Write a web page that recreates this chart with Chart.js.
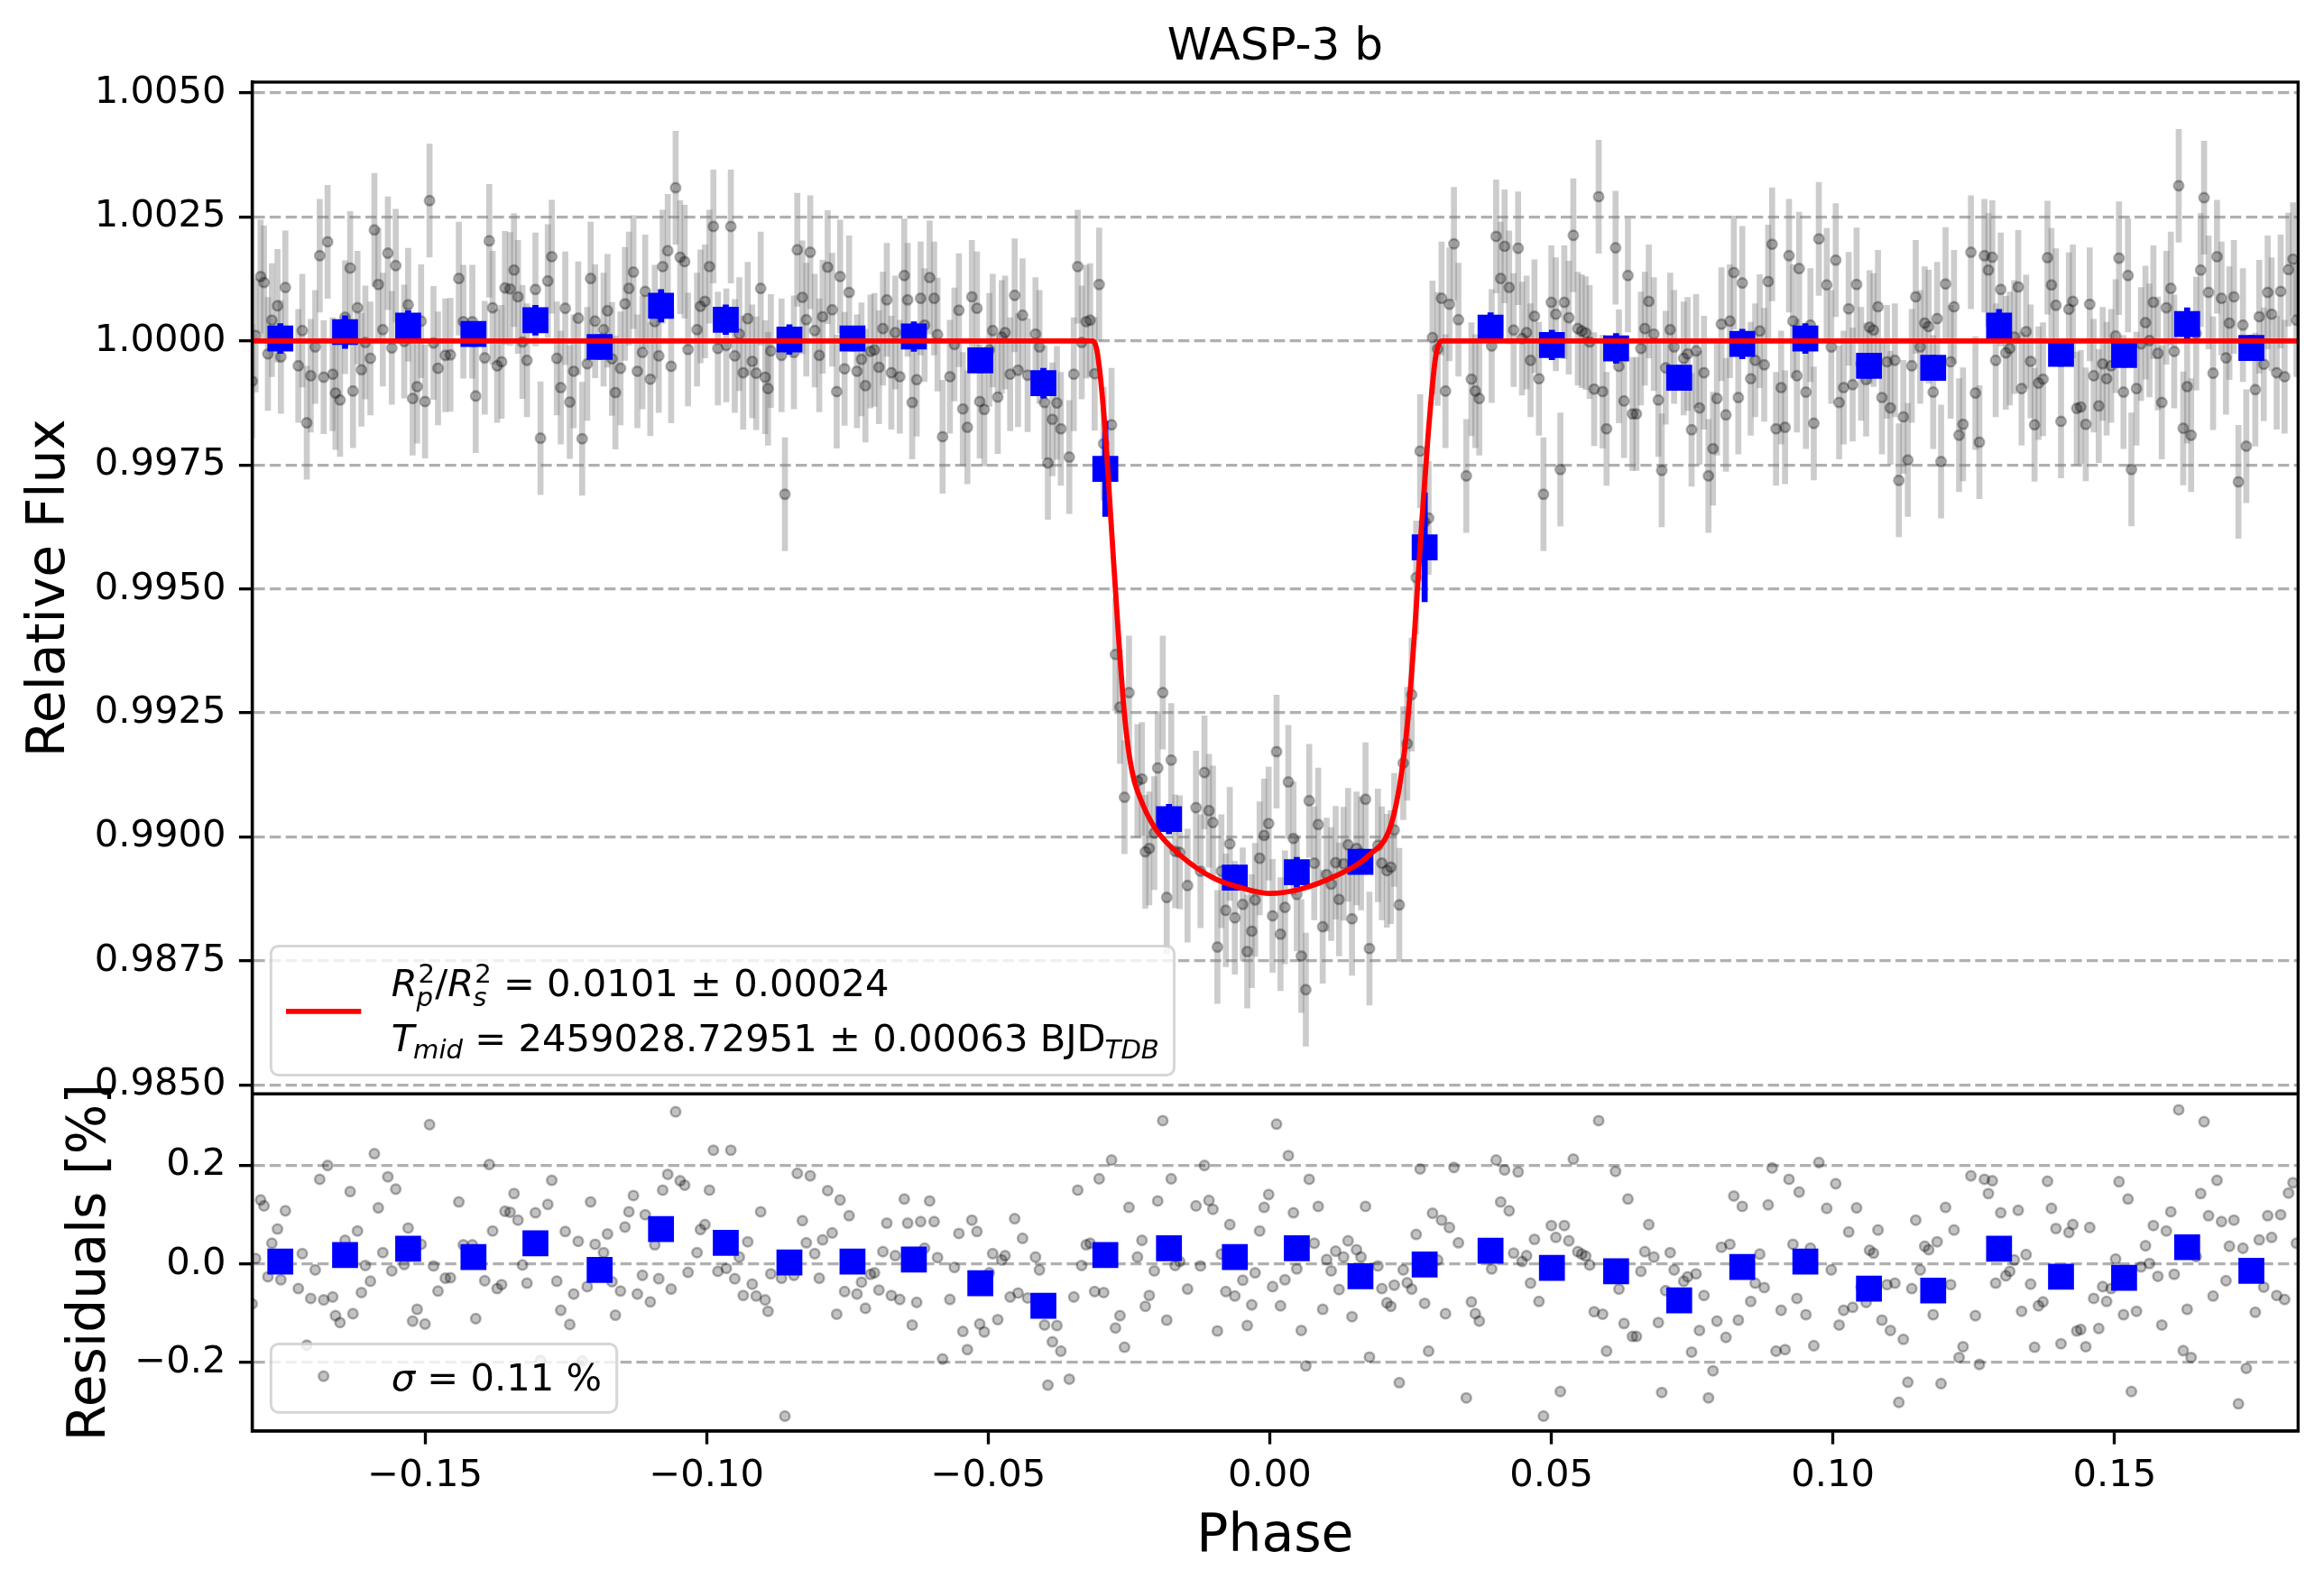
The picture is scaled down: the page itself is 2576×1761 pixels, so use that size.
<!DOCTYPE html>
<html><head><meta charset="utf-8">
<script src="https://cdn.jsdelivr.net/npm/chart.js@4.4.1/dist/chart.umd.min.js"></script>
<style>html,body{margin:0;padding:0;background:#fff;}canvas{display:block;}</style>
</head><body>
<canvas id="c" width="2576" height="1761" style="width:2576px;height:1761px"></canvas>
<script>
// ---------------- DATA ----------------
const phase = [
-0.1807,-0.1801,-0.1792,-0.1786,-0.1779,-0.1772,-0.1762,-0.1756,-0.1748,-0.1725,
-0.1718,-0.1710,-0.1703,-0.1695,-0.1687,-0.1680,-0.1673,-0.1664,-0.1659,-0.1651,
-0.1642,-0.1633,-0.1628,-0.1620,-0.1613,-0.1606,-0.1597,-0.1590,-0.1583,-0.1575,
-0.1566,-0.1559,-0.1552,-0.1537,-0.1530,-0.1522,-0.1514,-0.1507,-0.1500,-0.1492,
-0.1485,-0.1477,-0.1464,-0.1455,-0.1440,-0.1432,-0.1416,-0.1410,-0.1394,-0.1386,
-0.1380,-0.1372,-0.1364,-0.1358,-0.1349,-0.1342,-0.1335,-0.1327,-0.1319,-0.1304,
-0.1295,-0.1282,-0.1275,-0.1266,-0.1259,-0.1251,-0.1243,-0.1236,-0.1228,-0.1221,
-0.1212,-0.1206,-0.1198,-0.1183,-0.1176,-0.1168,-0.1162,-0.1153,-0.1145,-0.1138,
-0.1130,-0.1123,-0.1114,-0.1109,-0.1100,-0.1092,-0.1085,-0.1078,-0.1069,-0.1063,
-0.1055,-0.1047,-0.1039,-0.1033,-0.1017,-0.1011,-0.1003,-0.0995,-0.0988,-0.0980,
-0.0965,-0.0957,-0.0950,-0.0942,-0.0935,-0.0927,-0.0919,-0.0912,-0.0904,-0.0896,
-0.0891,-0.0886,
-0.0867,-0.0861,-0.0845,-0.0839,-0.0830,-0.0823,-0.0816,-0.0808,-0.0800,-0.0794,
-0.0785,-0.0777,-0.0769,-0.0763,-0.0755,-0.0747,-0.0733,-0.0725,-0.0718,-0.0709,
-0.0702,-0.0694,-0.0687,-0.0680,-0.0672,-0.0665,-0.0657,-0.0649,-0.0643,-0.0635,
-0.0627,-0.0620,-0.0613,-0.0604,-0.0596,-0.0590,-0.0581,-0.0568,-0.0560,-0.0552,
-0.0545,-0.0537,-0.0529,-0.0520,-0.0515,-0.0507,-0.0498,-0.0492,-0.0483,-0.0476,
-0.0470,-0.0461,-0.0453,-0.0447,-0.0439,-0.0430,-0.0416,-0.0409,-0.0400,-0.0394,
-0.0386,-0.0378,-0.0371,-0.0356,-0.0348,-0.0341,-0.0334,-0.0326,-0.0319,
-0.0311,-0.0303,-0.0295,-0.0281,-0.0274,-0.0266,-0.0258,-0.0250,-0.0235,-0.0227,
-0.0221,-0.0214,-0.0205,-0.0199,-0.0190,-0.0183,-0.0175,-0.0168,-0.0160,-0.0146,
-0.0131,-0.0123,-0.0116,-0.0108,-0.0101,-0.0093,-0.0086,-0.0078,-0.0071,-0.0062,
-0.0048,-0.0040,-0.0032,-0.0026,-0.0018,-0.0010,-0.0002,0.0005,0.0012,0.0019,
0.0027,
0.0033,0.0042,0.0048,0.0056,0.0064,0.0070,0.0079,0.0086,0.0094,0.0101,
0.0109,0.0117,0.0123,0.0131,0.0139,0.0146,0.0154,0.0162,0.0170,0.0177,
0.0192,0.0199,0.0208,0.0215,0.0221,0.0230,0.0237,0.0244,0.0252,0.0260,
0.0267,0.0275,0.0282,0.0289,0.0298,0.0305,
0.0312,0.0319,0.0327,0.0335,0.0349,0.0358,0.0365,0.0372,0.0394,0.0402,
0.0410,0.0417,0.0425,0.0433,0.0441,0.0448,0.0456,0.0463,0.0470,0.0478,
0.0486,0.0500,0.0508,0.0516,0.0523,0.0531,0.0539,0.0547,0.0554,0.0561,
0.0568,0.0576,0.0584,0.0591,0.0598,0.0614,0.0620,0.0629,0.0636,0.0644,
0.0651,0.0659,0.0666,0.0673,0.0682,0.0690,0.0696,0.0703,0.0711,0.0718,
0.0735,0.0742,0.0749,0.0757,0.0763,0.0771,0.0779,0.0787,0.0794,0.0802,
0.0810,0.0817,0.0824,0.0832,0.0839,0.0854,0.0862,0.0870,0.0878,0.0885,
0.0892,0.0899,0.0908,0.0915,0.0922,0.0929,0.0936,0.0940,
0.0952,0.0960,0.0966,0.0975,0.0989,0.0997,0.1005,0.1011,0.1019,0.1028,
0.1035,0.1042,0.1050,0.1059,0.1065,0.1072,0.1080,0.1087,0.1096,0.1102,
0.1110,0.1117,0.1125,0.1133,0.1140,0.1147,0.1155,0.1163,0.1170,0.1178,
0.1185,0.1192,0.1200,0.1209,0.1215,0.1224,0.1231,0.1245,0.1253,0.1260,
0.1269,0.1276,0.1283,0.1289,0.1298,0.1307,0.1314,0.1322,0.1329,0.1335,
0.1343,0.1351,0.1358,0.1365,0.1373,0.1381,0.1388,0.1396,0.1405,0.1419,
0.1426,0.1433,0.1440,0.1449,0.1456,0.1463,0.1472,0.1479,0.1486,0.1494,
0.1502,0.1508,0.1516,0.1524,0.1530,0.1539,0.1547,0.1555,0.1562,0.1569,
0.1577,0.1584,0.1592,0.1600,0.1606,0.1614,0.1622,0.1629,0.1636,0.1645,
0.1653,0.1659,0.1667,0.1675,0.1682,0.1690,0.1698,0.1704,0.1712,0.1720,
0.1728,0.1734,0.1750,0.1757,0.1765,0.1772,0.1779,0.1788,0.1795,0.1802,
0.1809,0.1817,0.1823
];

// relative flux of every exposure
const flux = [
0.99919,1.00011,1.00130,1.00118,0.99974,1.00042,1.00071,0.99968,1.00108,0.99950,
1.00021,0.99835,0.99930,0.99988,1.00172,0.99927,1.00200,0.99933,0.99895,0.99881,
1.00048,1.00147,0.99899,1.00067,0.99942,0.99997,0.99965,1.00224,1.00114,1.00023,
1.00177,0.99986,1.00152,0.99999,1.00073,0.99884,0.99908,1.00040,0.99878,1.00283,
0.99996,0.99945,0.99971,0.99972,1.00126,1.00039,1.00039,0.99889,0.99966,1.00202,
1.00067,0.99950,0.99958,1.00107,1.00105,1.00143,1.00089,0.99998,0.99961,1.00104,
0.99804,1.00121,1.00170,0.99965,0.99906,1.00066,0.99877,0.99939,1.00046,0.99803,
0.99954,1.00126,1.00040,1.00023,1.00061,0.99964,0.99896,0.99945,1.00075,1.00106,
1.00139,0.99939,0.99977,1.00100,0.99923,1.00039,0.99970,1.00150,1.00182,0.99949,
1.00309,1.00169,1.00160,0.99983,1.00023,1.00070,1.00080,1.00150,1.00231,0.99985,
0.99991,1.00231,0.99970,1.00014,0.99936,1.00045,0.99959,0.99935,1.00106,0.99927,
0.99904,0.99980,
0.99971,0.99691,0.99977,1.00184,1.00088,1.00043,1.00179,1.00021,0.99971,1.00049,
1.00149,1.00063,0.99898,1.00130,0.99944,1.00098,0.99939,0.99963,0.99910,0.99979,
0.99982,0.99947,1.00025,1.00083,0.99936,1.00017,0.99928,1.00132,1.00083,0.99876,
0.99922,1.00086,1.00032,1.00128,1.00086,1.00013,0.99807,0.99928,0.99993,1.00062,
0.99863,0.99826,1.00089,1.00066,0.99878,0.99862,0.99982,1.00021,0.99887,1.00008,
1.00017,0.99933,1.00092,0.99941,1.00052,0.99931,1.00014,0.99988,0.99876,0.99754,
0.99842,0.99875,0.99823,0.99766,0.99933,1.00150,0.99997,1.00039,1.00042,
0.99934,1.00114,0.99793,0.99831,0.99368,0.99262,0.99080,0.99291,0.99113,0.99117,
0.98970,0.98977,0.99008,0.99139,0.99291,0.98878,0.99155,0.98971,0.98969,0.98902,
0.99059,0.98931,0.99130,0.99053,0.99029,0.98778,0.98931,0.98852,0.98986,0.98837,
0.98864,0.98769,0.98810,0.98873,0.98957,0.99003,0.99027,0.98841,0.99172,0.98804,
0.98858,
0.99111,0.98997,0.98884,0.98760,0.98692,0.99073,0.98947,0.99025,0.98819,0.98924,
0.98905,0.98948,0.98874,0.98946,0.98984,0.98835,0.98977,0.98967,0.99076,0.98775,
0.98983,0.98947,0.98932,0.98939,0.99014,0.98863,0.99149,0.99188,0.99287,0.99523,
0.99778,0.99635,0.99643,1.00007,0.99984,1.00086,
0.99899,1.00074,1.00196,1.00043,0.99728,0.99923,0.99899,0.99884,0.99990,1.00211,
1.00126,1.00191,1.00108,1.00022,1.00187,1.00005,1.00017,0.99961,1.00050,0.99924,
0.99691,1.00078,1.00054,0.99741,1.00078,1.00047,1.00213,1.00025,1.00020,1.00016,
0.99998,0.99903,1.00291,0.99898,0.99823,1.00188,0.99949,0.99879,1.00132,0.99853,
0.99853,0.99985,1.00025,1.00080,1.00014,0.99881,0.99739,0.99946,1.00023,0.99988,
0.99965,0.99974,0.99821,0.99980,0.99865,0.99936,0.99728,0.99783,0.99884,1.00034,
0.99851,1.00040,1.00138,0.99886,1.00117,0.99924,0.99961,1.00020,0.99952,1.00120,
1.00195,0.99823,0.99906,0.99826,1.00172,1.00040,0.99930,1.00146,
0.99897,1.00032,0.99834,1.00206,1.00113,0.99988,1.00163,0.99876,0.99906,1.00065,
0.99912,1.00114,0.99954,0.99922,1.00028,1.00022,1.00069,0.99886,0.99958,0.99865,
0.99961,0.99719,0.99847,0.99760,0.99950,1.00089,0.99988,1.00036,1.00029,0.99897,
1.00045,0.99757,1.00115,0.99958,1.00069,0.99810,0.99832,1.00179,0.99895,0.99796,
1.00172,1.00143,1.00169,0.99961,1.00104,0.99976,0.99985,1.00008,1.00109,0.99904,
1.00019,0.99959,0.99831,0.99915,0.99923,1.00168,1.00113,1.00072,0.99838,1.00064,
1.00080,0.99864,0.99867,0.99832,1.00074,0.99930,0.99869,0.99954,0.99924,0.99950,
1.00010,1.00167,0.99897,1.00132,0.99741,0.99904,0.99994,1.00037,1.00001,1.00078,
0.99975,0.99876,1.00067,1.00106,0.99979,1.00313,0.99824,0.99908,0.99810,1.00015,
1.00143,1.00289,1.00098,0.99935,1.00170,1.00086,0.99966,1.00036,1.00089,0.99716,
1.00032,0.99788,0.99902,1.00049,0.99953,1.00098,1.00054,0.99936,1.00100,0.99928,
1.00144,1.00165,1.00042
];

// residuals in percent, same order as phase
const resid = [
-0.081,0.011,0.130,0.118,-0.026,0.042,0.071,-0.032,0.108,-0.050,
0.021,-0.165,-0.070,-0.012,0.172,-0.073,0.200,-0.067,-0.105,-0.119,
0.048,0.147,-0.101,0.067,-0.058,-0.003,-0.035,0.224,0.114,0.023,
0.177,-0.014,0.152,-0.001,0.073,-0.116,-0.092,0.040,-0.122,0.283,
-0.004,-0.055,-0.029,-0.028,0.126,0.039,0.039,-0.111,-0.034,0.202,
0.067,-0.050,-0.042,0.107,0.105,0.143,0.089,-0.002,-0.039,0.104,
-0.196,0.121,0.170,-0.035,-0.094,0.066,-0.123,-0.061,0.046,-0.197,
-0.046,0.126,0.040,0.023,0.061,-0.036,-0.104,-0.055,0.075,0.106,
0.139,-0.061,-0.023,0.100,-0.077,0.039,-0.030,0.150,0.182,-0.051,
0.309,0.169,0.160,-0.017,0.023,0.070,0.080,0.150,0.231,-0.015,
-0.009,0.231,-0.030,0.014,-0.064,0.045,-0.041,-0.065,0.106,-0.073,
-0.096,-0.020,
-0.029,-0.309,-0.023,0.184,0.088,0.043,0.179,0.021,-0.029,0.049,
0.149,0.063,-0.102,0.130,-0.056,0.098,-0.061,-0.037,-0.090,-0.021,
-0.018,-0.053,0.025,0.083,-0.064,0.017,-0.072,0.132,0.083,-0.124,
-0.078,0.086,0.032,0.128,0.086,0.013,-0.193,-0.072,-0.007,0.062,
-0.137,-0.174,0.089,0.066,-0.122,-0.138,-0.018,0.021,-0.113,0.008,
0.017,-0.067,0.092,-0.059,0.052,-0.069,0.014,-0.012,-0.124,-0.246,
-0.158,-0.125,-0.177,-0.234,-0.067,0.150,-0.003,0.039,0.042,
-0.056,0.173,-0.058,0.211,-0.130,-0.105,-0.169,0.115,0.014,0.048,
-0.086,-0.064,-0.014,0.128,0.291,-0.114,0.173,-0.003,0.005,-0.051,
0.118,-0.004,0.200,0.129,0.111,-0.136,0.020,-0.056,0.080,-0.065,
-0.033,-0.125,-0.083,-0.018,0.067,0.115,0.141,-0.046,0.284,-0.085,
-0.032,
0.220,0.104,-0.010,-0.135,-0.207,0.172,0.042,0.117,-0.092,0.009,
-0.014,0.026,-0.052,0.014,0.047,-0.107,0.029,0.014,0.117,-0.189,
-0.004,-0.050,-0.079,-0.086,-0.043,-0.241,-0.012,-0.038,-0.051,0.060,
0.193,-0.080,-0.177,0.103,0.008,0.089,
-0.101,0.074,0.196,0.043,-0.272,-0.077,-0.101,-0.116,-0.010,0.211,
0.126,0.191,0.108,0.022,0.187,0.005,0.017,-0.039,0.050,-0.076,
-0.309,0.078,0.054,-0.259,0.078,0.047,0.213,0.025,0.020,0.016,
-0.002,-0.097,0.291,-0.102,-0.177,0.188,-0.051,-0.121,0.132,-0.147,
-0.147,-0.015,0.025,0.080,0.014,-0.119,-0.261,-0.054,0.023,-0.012,
-0.035,-0.026,-0.179,-0.020,-0.135,-0.064,-0.272,-0.217,-0.116,0.034,
-0.149,0.040,0.138,-0.114,0.117,-0.076,-0.039,0.020,-0.048,0.120,
0.195,-0.177,-0.094,-0.174,0.172,0.040,-0.070,0.146,
-0.103,0.032,-0.166,0.206,0.113,-0.012,0.163,-0.124,-0.094,0.065,
-0.088,0.114,-0.046,-0.078,0.028,0.022,0.069,-0.114,-0.042,-0.135,
-0.039,-0.281,-0.153,-0.240,-0.050,0.089,-0.012,0.036,0.029,-0.103,
0.045,-0.243,0.115,-0.042,0.069,-0.190,-0.168,0.179,-0.105,-0.204,
0.172,0.143,0.169,-0.039,0.104,-0.024,-0.015,0.008,0.109,-0.096,
0.019,-0.041,-0.169,-0.085,-0.077,0.168,0.113,0.072,-0.162,0.064,
0.080,-0.136,-0.133,-0.168,0.074,-0.070,-0.131,-0.046,-0.076,-0.050,
0.010,0.167,-0.103,0.132,-0.259,-0.096,-0.006,0.037,0.001,0.078,
-0.025,-0.124,0.067,0.106,-0.021,0.313,-0.176,-0.092,-0.190,0.015,
0.143,0.289,0.098,-0.065,0.170,0.086,-0.034,0.036,0.089,-0.284,
0.032,-0.212,-0.098,0.049,-0.047,0.098,0.054,-0.064,0.100,-0.072,
0.144,0.165,0.042
];

// uniform 1-sigma flux error of the exposures (error bar half length)
const fluxErr = 0.00114;

// binned points (blue squares)
const binPhase = [-0.1757,-0.1642,-0.1530,-0.1414,-0.1304,-0.1190,-0.1081,-0.0966,-0.0853,-0.0741,
  -0.0632,-0.0514,-0.0402,-0.0292,-0.0179,-0.0062,0.0048,0.0161,0.0275,0.0392,
  0.0501,0.0615,0.0727,0.0839,0.0951,0.1064,0.1178,0.1295,0.1405,0.1517,0.1629,0.1743];
const binFlux = [1.00005,1.00018,1.00031,1.00014,1.00042,0.99988,1.00071,1.00043,1.00003,1.00005,
  1.00009,0.99961,0.99915,0.99742,0.99036,0.98918,0.98929,0.98950,0.99584,1.00027,
  0.99992,0.99985,0.99926,0.99994,1.00005,0.99950,0.99946,1.00031,0.99974,0.99972,1.00034,0.99986];
const binErr = [0.00030,0.00033,0.00030,0.00025,0.00030,0.00025,0.00033,0.00030,0.00030,0.00025,
  0.00030,0.00025,0.00030,0.00096,0.00030,0.00025,0.00030,0.00025,0.00110,0.00030,
  0.00030,0.00030,0.00025,0.00030,0.00030,0.00025,0.00025,0.00033,0.00025,0.00025,0.00033,0.00025];
const binResid = [0.005,0.018,0.031,0.014,0.042,-0.012,0.071,0.043,0.003,0.005,
  0.009,-0.039,-0.085,0.018,0.032,0.014,0.032,-0.025,-0.001,0.027,
  -0.008,-0.015,-0.074,-0.006,0.005,-0.050,-0.054,0.031,-0.026,-0.028,0.034,-0.014];

// fitted transit model (red curve)
const modelPhase = [-0.1807,-0.0315,-0.0306,-0.0293,-0.0281,-0.0269,-0.0257,-0.0245,-0.0226,-0.0202,
  -0.0159,-0.0098,-0.0043,0.0000,0.0055,0.0116,0.0177,0.0214,0.0232,0.0245,
  0.0257,0.0269,0.0281,0.0294,0.0306,0.1826];
const modelFlux = [1.00000,1.00000,0.99975,0.99829,0.99620,0.99411,0.99234,0.99135,0.99067,0.99015,
  0.98963,0.98916,0.98895,0.98886,0.98895,0.98921,0.98964,0.99020,0.99114,0.99235,
  0.99411,0.99620,0.99808,0.99964,1.00000,1.00000];

// axes ticks and ranges
const xTickValues = [-0.15,-0.10,-0.05,0.00,0.05,0.10,0.15];
const fluxTickValues = [0.9850,0.9875,0.9900,0.9925,0.9950,0.9975,1.0000,1.0025,1.0050];
const residTickValues = [-0.2,0.0,0.2];
const xRange = [-0.1807, 0.1826];
const fluxRange = [0.98482, 1.00522];
const residRange = [-0.3394, 0.3455];

// texts
const titleText = 'WASP-3 b';
const xLabel = 'Phase', fluxLabel = 'Relative Flux', residLabel = 'Residuals [%]';
const legendFitLines = [
  [{t:'R',it:1},{sup:'2',sub:'p'},{t:'/'},{t:'R',it:1},{sup:'2',sub:'s'},{t:' = 0.0101 \u00b1 0.00024'}],
  [{t:'T',it:1},{sub:'mid'},{t:' = 2459028.72951 \u00b1 0.00063 BJD'},{sub:'TDB'}]
];
const legendResidLine = [{t:'\u03c3',it:1},{t:' = 0.11 %'}];

if (phase.length !== flux.length || phase.length !== resid.length) {
  throw new Error('length mismatch ' + phase.length + ' ' + flux.length + ' ' + resid.length);
}

// ---------------- STYLE ----------------
const PX = 300/72;
const FONT = '"DejaVu Sans"';
const TICK_FS = 10*PX, LABEL_FS = 14*PX, TITLE_FS = 12*PX;
const AX_W = 0.8*PX;
const GRAY_FACE = 'rgba(0,0,0,0.24)', GRAY_EDGE = 'rgba(0,0,0,0.3)';
Chart.defaults.font.family = FONT;
Chart.defaults.color = '#000';

function fmt(v, d) { return (v < 0 ? '\u2212' : '') + Math.abs(v).toFixed(d); }

function fontStr(sz, it) { return (it ? 'italic ' : '') + sz + 'px ' + FONT; }
function drawRich(ctx, parts, x, y, draw) {
  let cx = x;
  for (const p of parts) {
    if (p.t !== undefined) {
      ctx.font = fontStr(TICK_FS, p.it);
      if (draw) ctx.fillText(p.t, cx, y);
      cx += ctx.measureText(p.t).width;
    } else {
      const s = TICK_FS*0.7;
      let w = 0;
      if (p.sup) {
        ctx.font = fontStr(s, false);
        if (draw) ctx.fillText(p.sup, cx + 1, y - TICK_FS*0.36);
        w = Math.max(w, ctx.measureText(p.sup).width + 1);
      }
      if (p.sub) {
        ctx.font = fontStr(s, true);
        const dy = p.sup ? TICK_FS*0.26 : TICK_FS*0.17;
        if (draw) ctx.fillText(p.sub, cx - 1, y + dy);
        w = Math.max(w, ctx.measureText(p.sub).width - 1);
      }
      cx += w;
    }
  }
  return cx - x;
}
function roundBox(ctx, x, y, w, h, r) {
  ctx.beginPath();
  ctx.moveTo(x + r, y);
  ctx.lineTo(x + w - r, y); ctx.arcTo(x + w, y, x + w, y + r, r);
  ctx.lineTo(x + w, y + h - r); ctx.arcTo(x + w, y + h, x + w - r, y + h, r);
  ctx.lineTo(x + r, y + h); ctx.arcTo(x, y + h, x, y + h - r, r);
  ctx.lineTo(x, y + r); ctx.arcTo(x, y, x + r, y, r);
  ctx.closePath();
  ctx.fillStyle = 'rgba(255,255,255,0.8)';
  ctx.fill();
  ctx.strokeStyle = 'rgba(204,204,204,0.8)';
  ctx.lineWidth = 3;
  ctx.stroke();
}

const framePlugin = {
  id: 'frame',
  afterDatasetsDraw(chart) {
    const {ctx, chartArea: a, scales} = chart;
    ctx.save();
    ctx.strokeStyle = '#000';
    ctx.lineWidth = AX_W;
    ctx.strokeRect(a.left, a.top, a.right - a.left, a.bottom - a.top);
    ctx.beginPath();
    ctx.moveTo(a.left, scales.y.bottom);
    ctx.lineTo(a.right, scales.y.bottom);
    ctx.stroke();
    ctx.restore();
  }
};

const legendPlugin = {
  id: 'mplLegends',
  afterDraw(chart) {
    const {ctx, chartArea: a, scales} = chart;
    const axPad = 0.5*TICK_FS, bp = 0.4*TICK_FS, hl = 2*TICK_FS, htp = 0.8*TICK_FS;
    ctx.save();
    ctx.textBaseline = 'alphabetic';
    ctx.textAlign = 'left';
    // top legend
    const left = a.left + axPad;
    const textX = left + bp + hl + htp;
    let bottom = scales.y.bottom - axPad;
    let w = Math.max(drawRich(ctx, legendFitLines[0], 0, 0, false), drawRich(ctx, legendFitLines[1], 0, 0, false));
    roundBox(ctx, left, bottom - 143, textX + w + bp - left, 143, 8.3);
    ctx.strokeStyle = 'red';
    ctx.lineWidth = 5.8;
    ctx.beginPath();
    ctx.moveTo(left + bp, bottom - 70.5);
    ctx.lineTo(left + bp + hl, bottom - 70.5);
    ctx.stroke();
    ctx.fillStyle = '#000';
    drawRich(ctx, legendFitLines[0], textX, bottom - 87, true);
    drawRich(ctx, legendFitLines[1], textX, bottom - 26, true);
    // bottom legend
    bottom = a.bottom - axPad;
    w = drawRich(ctx, legendResidLine, 0, 0, false);
    roundBox(ctx, left, bottom - 75.7, textX + w + bp - left, 75.7, 8.3);
    ctx.beginPath();
    ctx.arc(left + bp + hl/2, bottom - 40, 5.3, 0, Math.PI*2);
    ctx.fillStyle = GRAY_FACE; ctx.fill();
    ctx.strokeStyle = GRAY_EDGE; ctx.lineWidth = 2.5; ctx.stroke();
    ctx.fillStyle = '#000';
    drawRich(ctx, legendResidLine, textX, bottom - 24, true);
    ctx.restore();
  }
};

const tickFont = {size: TICK_FS, family: FONT};
const labelFont = {size: LABEL_FS, family: FONT, weight: 'normal'};
const dash = [3.7*AX_W, 1.6*AX_W];

const datasets = [
  { type: 'bar', label: 'flux err', yAxisID: 'y', order: 10, grouped: false, barThickness: 6,
    backgroundColor: 'rgba(128,128,128,0.4)', borderWidth: 0,
    data: phase.map((p, i) => ({x: p, y: [flux[i] - fluxErr, flux[i] + fluxErr]})) },
  { type: 'scatter', label: 'flux', yAxisID: 'y', order: 9,
    pointRadius: 5.3, pointBackgroundColor: GRAY_FACE, pointBorderColor: GRAY_EDGE, pointBorderWidth: 2.5,
    data: phase.map((p, i) => ({x: p, y: flux[i]})) },
  { type: 'bar', label: 'bin err', yAxisID: 'y', order: 8, grouped: false, barThickness: 6,
    backgroundColor: '#0000ff', borderWidth: 0,
    data: binPhase.map((p, i) => ({x: p, y: [binFlux[i] - binErr[i], binFlux[i] + binErr[i]]})) },
  { type: 'scatter', label: 'binned', yAxisID: 'y', order: 7,
    pointStyle: 'rect', pointRadius: 20.3, pointBackgroundColor: '#0000ff', pointBorderWidth: 0,
    data: binPhase.map((p, i) => ({x: p, y: binFlux[i]})) },
  { type: 'line', label: 'model', yAxisID: 'y', order: 6,
    borderColor: '#ff0000', borderWidth: 5.8, pointRadius: 0, fill: false,
    cubicInterpolationMode: 'monotone',
    data: modelPhase.map((p, i) => ({x: p, y: modelFlux[i]})) },
  { type: 'scatter', label: 'resid', yAxisID: 'y2', order: 9,
    pointRadius: 5.3, pointBackgroundColor: GRAY_FACE, pointBorderColor: GRAY_EDGE, pointBorderWidth: 2.5,
    data: phase.map((p, i) => ({x: p, y: resid[i]})) },
  { type: 'scatter', label: 'binned resid', yAxisID: 'y2', order: 7,
    pointStyle: 'rect', pointRadius: 20.3, pointBackgroundColor: '#0000ff', pointBorderWidth: 0,
    data: binPhase.map((p, i) => ({x: p, y: binResid[i]})) }
];

new Chart(document.getElementById('c').getContext('2d'), {
  type: 'scatter',
  data: { datasets },
  options: {
    responsive: false, animation: false, devicePixelRatio: 1, events: [],
    layout: { padding: { left: 0, right: 28.7, top: 0, bottom: 0 } },
    plugins: {
      legend: { display: false },
      tooltip: { enabled: false },
      title: { display: true, text: titleText, fullSize: false, color: '#000',
        font: {size: TITLE_FS, weight: 'normal', family: FONT}, padding: {top: 23, bottom: 8} }
    },
    scales: {
      x: {
        type: 'linear', position: 'bottom', min: xRange[0], max: xRange[1], offset: false,
        afterBuildTicks: s => { s.ticks = xTickValues.map(v => ({value: v})); },
        afterFit: s => { s.height = 175; },
        ticks: { callback: v => fmt(v, 2), font: tickFont, color: '#000', padding: 11, maxRotation: 0, autoSkip: false },
        grid: { display: true, drawOnChartArea: false, drawTicks: true, tickLength: 3.5*PX, tickWidth: AX_W, tickColor: '#000', color: '#000', offset: false },
        border: { display: true, color: '#000', width: AX_W },
        title: { display: true, text: xLabel, font: labelFont, color: '#000', padding: {top: 0, bottom: 22} }
      },
      y: {
        type: 'linear', position: 'left', stack: 'panels', stackWeight: 3, weight: 1,
        min: fluxRange[0], max: fluxRange[1],
        afterBuildTicks: s => { s.ticks = fluxTickValues.map(v => ({value: v})); },
        afterFit: s => { s.width = 279.5; },
        ticks: { callback: v => fmt(v, 4), font: tickFont, color: '#000', padding: 14.5, autoSkip: false },
        grid: { color: '#b0b0b0', lineWidth: AX_W, drawTicks: true, tickLength: 3.5*PX, tickWidth: AX_W, tickColor: '#000' },
        border: { display: true, color: '#000', width: AX_W, dash: dash },
        title: { display: true, text: fluxLabel, font: labelFont, color: '#000', padding: {top: 21, bottom: 0} }
      },
      y2: {
        type: 'linear', position: 'left', stack: 'panels', stackWeight: 1, weight: 0,
        min: residRange[0], max: residRange[1],
        afterBuildTicks: s => { s.ticks = residTickValues.map(v => ({value: v})); },
        afterFit: s => { s.width = 279.5; },
        ticks: { callback: v => fmt(v, 1), font: tickFont, color: '#000', padding: 14.5, autoSkip: false },
        grid: { color: '#b0b0b0', lineWidth: AX_W, drawTicks: true, tickLength: 3.5*PX, tickWidth: AX_W, tickColor: '#000' },
        border: { display: true, color: '#000', width: AX_W, dash: dash },
        title: { display: true, text: residLabel, font: labelFont, color: '#000', padding: {top: 66, bottom: 0} }
      }
    }
  },
  plugins: [framePlugin, legendPlugin]
});
</script>
</body></html>
